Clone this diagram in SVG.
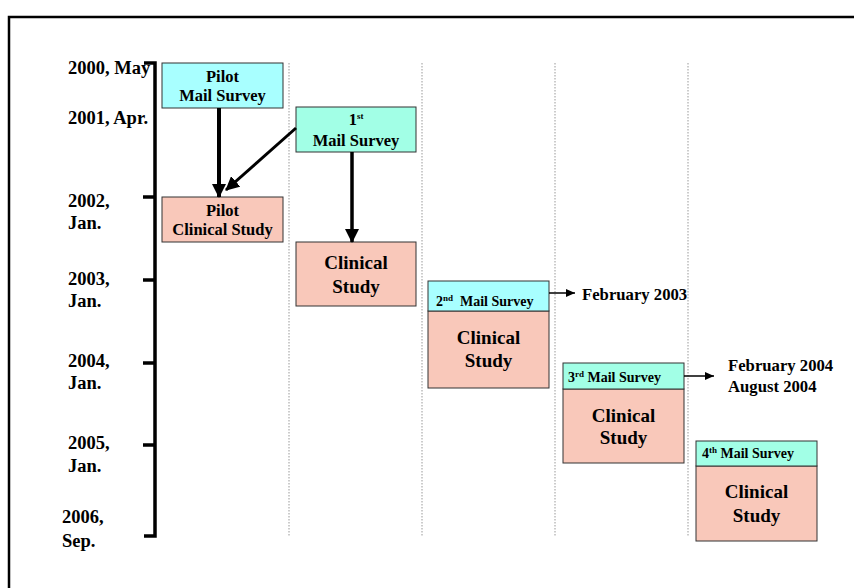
<svg xmlns="http://www.w3.org/2000/svg" width="854" height="588" viewBox="0 0 854 588">
<style>
text{font-family:"Liberation Serif","Times New Roman",serif;font-weight:bold;fill:#000}
.lab{font-size:18.5px}
.sm{font-size:16.5px;text-anchor:middle}
.big{font-size:19px;text-anchor:middle}
.ms{font-size:14px}
.dt{font-size:16.7px}
.sup{font-size:9px}
.cy{fill:#A8FFFF;stroke:#333;stroke-width:1}
.aq{fill:#A2FFE6;stroke:#333;stroke-width:1}
.sa{fill:#F9C8BA;stroke:#333;stroke-width:1}
.sep{stroke:#999;stroke-width:1;stroke-dasharray:1.5,1.5}
.thick{stroke:#000;stroke-width:4;fill:none}
.thin{stroke:#000;stroke-width:1.5;fill:none}
</style>
<defs>
<marker id="hb" markerUnits="userSpaceOnUse" markerWidth="14" markerHeight="14" viewBox="0 0 14 14" refX="13" refY="7" orient="auto">
<path d="M0,0 L14,7 L0,14 z" fill="#000"/>
</marker>
<marker id="hs" markerUnits="userSpaceOnUse" markerWidth="9" markerHeight="8" viewBox="0 0 9 8" refX="9" refY="4" orient="auto">
<path d="M0,0 L9,4 L0,8 z" fill="#000"/>
</marker>
</defs>
<rect width="854" height="588" fill="#fff"/>
<path d="M9,600 V17 H860" fill="none" stroke="#000" stroke-width="2.5"/>

<g id="timeline">
<path d="M144,63 H155 V536 H144" fill="none" stroke="#000" stroke-width="3.5"/>
<path d="M143,197 H155 M143,280 H155 M143,363 H155 M143,445 H155" stroke="#000" stroke-width="3.5"/>
<text class="lab" x="68" y="74">2000, May</text>
<text class="lab" x="68" y="124">2001, Apr.</text>
<text class="lab" x="68" y="207">2002,</text>
<text class="lab" x="68" y="229">Jan.</text>
<text class="lab" x="68" y="285">2003,</text>
<text class="lab" x="68" y="307">Jan.</text>
<text class="lab" x="68" y="367">2004,</text>
<text class="lab" x="68" y="389">Jan.</text>
<text class="lab" x="68" y="449">2005,</text>
<text class="lab" x="68" y="472">Jan.</text>
<text class="lab" x="62" y="523">2006,</text>
<text class="lab" x="62" y="547">Sep.</text>
</g>

<g id="separators">
<line class="sep" x1="289" y1="63" x2="289" y2="537"/>
<line class="sep" x1="422" y1="63" x2="422" y2="537"/>
<line class="sep" x1="555" y1="63" x2="555" y2="537"/>
<line class="sep" x1="688" y1="63" x2="688" y2="537"/>
</g>

<g id="pilot-mail">
<rect class="cy" x="162" y="63" width="121" height="45"/>
<text class="sm" x="222.5" y="82">Pilot</text>
<text class="sm" x="222.5" y="101">Mail Survey</text>
</g>

<g id="mail1">
<rect class="aq" x="296" y="107" width="120" height="45"/>
<text class="sm" x="356" y="125">1<tspan class="sup" dy="-6">st</tspan></text>
<text class="sm" x="356" y="146">Mail Survey</text>
</g>

<g id="pilot-clinical">
<rect class="sa" x="162" y="197" width="121" height="45"/>
<text class="sm" x="222.5" y="216">Pilot</text>
<text class="sm" x="222.5" y="235">Clinical Study</text>
</g>

<g id="clinical1">
<rect class="sa" x="296" y="242" width="120" height="64"/>
<text class="big" x="356" y="269">Clinical</text>
<text class="big" x="356" y="293">Study</text>
</g>

<g id="mail2">
<rect class="sa" x="428" y="311" width="121" height="77"/>
<rect class="cy" x="428" y="281" width="121" height="30"/>
<text class="ms" x="436" y="306">2<tspan class="sup" dy="-5">nd</tspan><tspan dy="5" xml:space="preserve">  Mail Survey</tspan></text>
<text class="big" x="488.5" y="344">Clinical</text>
<text class="big" x="488.5" y="367">Study</text>
</g>

<g id="mail3">
<rect class="sa" x="563" y="389" width="121" height="74"/>
<rect class="aq" x="563" y="363" width="121" height="26"/>
<text class="ms" x="568" y="382">3<tspan class="sup" dy="-5">rd</tspan><tspan dy="5"> Mail Survey</tspan></text>
<text class="big" x="623.5" y="422">Clinical</text>
<text class="big" x="623.5" y="444">Study</text>
</g>

<g id="mail4">
<rect class="sa" x="696" y="466" width="121" height="75"/>
<rect class="aq" x="696" y="441" width="121" height="25"/>
<text class="ms" x="702" y="458">4<tspan class="sup" dy="-5">th</tspan><tspan dy="5"> Mail Survey</tspan></text>
<text class="big" x="756.5" y="498">Clinical</text>
<text class="big" x="756.5" y="522">Study</text>
</g>

<g id="dates">
<text class="dt" x="582" y="300">February 2003</text>
<text class="dt" x="728" y="371">February 2004</text>
<text class="dt" x="728" y="392">August 2004</text>
</g>

<g id="connectors">
<line class="thick" x1="219" y1="108" x2="219" y2="197" marker-end="url(#hb)"/>
<line class="thick" x1="296" y1="128" x2="226" y2="190" marker-end="url(#hb)" style="stroke-width:3"/>
<line class="thick" x1="352" y1="152" x2="352" y2="242" marker-end="url(#hb)" style="stroke-width:3.5"/>
<line class="thin" x1="549" y1="293" x2="575" y2="293" marker-end="url(#hs)"/>
<line class="thin" x1="684" y1="376" x2="714" y2="376" marker-end="url(#hs)"/>
</g>
</svg>
